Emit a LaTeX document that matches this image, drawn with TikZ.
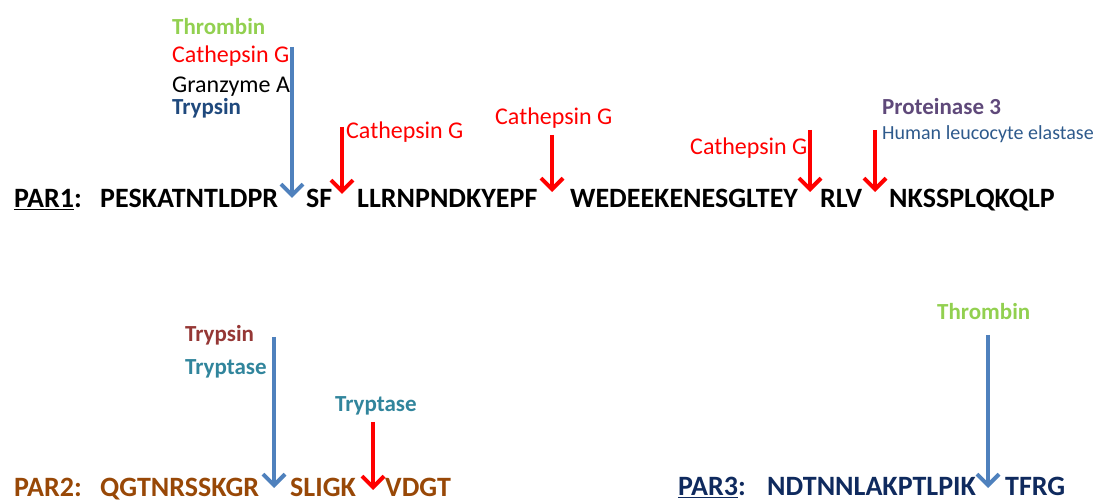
\documentclass[tikz,border=0pt]{standalone}
\usepackage{fontspec}
\setmainfont{Carlito}
\usepackage{tikz}
\usetikzlibrary{arrows.meta}

\definecolor{thrgreen}{HTML}{92D050}
\definecolor{catred}{HTML}{FF0000}
\definecolor{trypblue}{HTML}{1F497D}
\definecolor{arrblue}{HTML}{4F81BD}
\definecolor{prpurple}{HTML}{5F497A}
\definecolor{hlblue}{HTML}{2E5A8C}
\definecolor{partwo}{HTML}{984807}
\definecolor{trypred}{HTML}{953735}
\definecolor{tryteal}{HTML}{31859C}
\definecolor{parthree}{HTML}{0F2A5E}

\begin{document}
\begin{tikzpicture}[x=1pt,y=1pt,
    seq/.style={anchor=base west, inner sep=0pt, font=\fontsize{28}{32}\selectfont\bfseries},
    lab/.style={anchor=base west, inner sep=0pt, font=\fontsize{24}{28}\selectfont},
    labb/.style={lab, font=\fontsize{23}{28}\selectfont\bfseries},
    cut/.style={line width=4pt, -{Straight Barb[length=11pt,width=22pt]}}]
                \useasboundingbox (0,0) rectangle (1103,503);

                \node[seq] (par1) at (14,295) {\underline{PAR1}:};
                \node[seq] (p1a) at (100,295) {PESKATNTLDPR};
                \node[seq] (p1b) at (306,295) {SF};
                \node[seq] (p1c) at (357,295) {LLRNPNDKYEPF};
                \node[seq] (p1d) at (570,295) {WEDEEKENESGLTEY};
                \node[seq] (p1e) at (820,295) {RLV};
                \node[seq] (p1f) at (889,295) {NKSSPLQKQLP};

                \node[labb, text=thrgreen] (thr1) at (172,468) {Thrombin};
                \node[lab, text=catred] (cat1) at (172,440) {Cathepsin G};
                \node[lab] (gra1) at (172,410) {Granzyme A};
                \node[labb, text=trypblue] (try1) at (172,388) {Trypsin};
                \node[lab, text=catred] (cat2) at (346,364) {Cathepsin G};
                \node[lab, text=catred] (cat3) at (495,378) {Cathepsin G};
                \node[lab, text=catred] (cat4) at (690,348) {Cathepsin G};
                \node[labb, text=prpurple] (pro1) at (882,388) {Proteinase 3};
                \node[lab, text=hlblue, font=\fontsize{20}{24}\selectfont] (hle1) at (882,363) {Human leucocyte elastase};

                \coordinate (a1s) at (292,456); \coordinate (a1e) at (292,305);
                \coordinate (a2s) at (342,376); \coordinate (a2e) at (342,309);
                \coordinate (a3s) at (552,368); \coordinate (a3e) at (552,311);
                \coordinate (a4s) at (810,373); \coordinate (a4e) at (810,311);
                \coordinate (a5s) at (875,373); \coordinate (a5e) at (875,311);
                \draw[cut, arrblue] (a1s) -- (a1e);
                \draw[cut, catred] (a2s) -- (a2e);
                \draw[cut, catred] (a3s) -- (a3e);
                \draw[cut, catred] (a4s) -- (a4e);
                \draw[cut, catred] (a5s) -- (a5e);

                \node[seq, text=partwo] (par2) at (14,6) {PAR2:};
                \node[seq, text=partwo] (p2a) at (100,6) {QGTNRSSKGR};
                \node[seq, text=partwo] (p2b) at (290,6) {SLIGK};
                \node[seq, text=partwo] (p2c) at (385,6) {VDGT};

                \node[labb, text=trypred] (try2) at (185,161) {Trypsin};
                \node[labb, text=tryteal] (tpt2) at (185,128) {Tryptase};
                \node[labb, text=tryteal] (tpt3) at (335,91) {Tryptase};

                \coordinate (b1s) at (274,166); \coordinate (b1e) at (274,15);
                \coordinate (b2s) at (373,81); \coordinate (b2e) at (373,13);
                \draw[cut, arrblue] (b1s) -- (b1e);
                \draw[cut, catred] (b2s) -- (b2e);

                \node[seq, text=parthree] (par3) at (678,7) {\underline{PAR3}:};
                \node[seq, text=parthree] (p3a) at (767,7) {NDTNNLAKPTLPIK};
                \node[seq, text=parthree] (p3b) at (1005,7) {TFRG};

                \node[labb, text=thrgreen] (thr3) at (937,183) {Thrombin};

                \coordinate (c1s) at (988,168); \coordinate (c1e) at (988,15);
                \draw[cut, arrblue] (c1s) -- (c1e);
            \end{tikzpicture}
\end{document}
